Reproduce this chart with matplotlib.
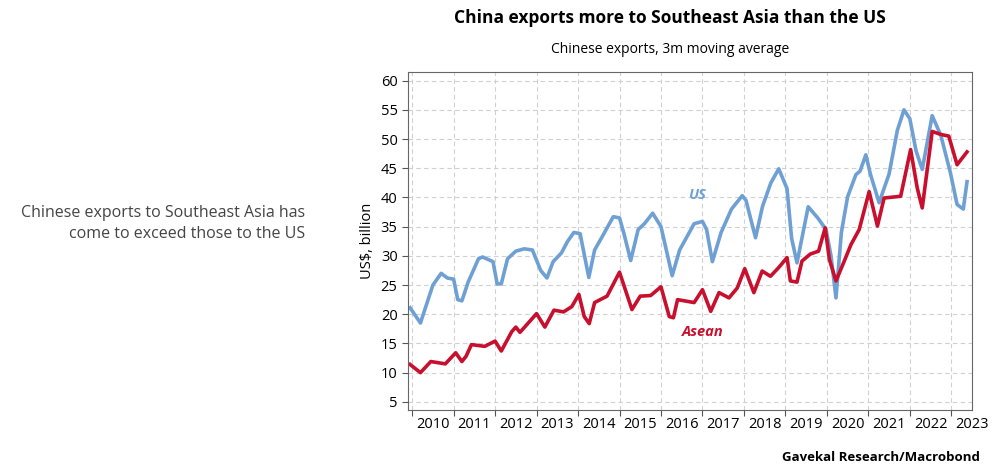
import matplotlib.pyplot as plt
import numpy as np

plt.rcParams['font.family'] = ['Open Sans', 'DejaVu Sans']

us_t = [2009.95, 2010.2, 2010.5, 2010.7, 2010.85, 2011.0, 2011.1, 2011.2, 2011.35, 2011.6, 2011.7,
        2011.95, 2012.05, 2012.15, 2012.3, 2012.5, 2012.7, 2012.9, 2013.1, 2013.25, 2013.4, 2013.6,
        2013.75, 2013.9, 2014.05, 2014.26, 2014.4, 2014.6, 2014.85, 2015.0, 2015.1, 2015.27, 2015.45,
        2015.6, 2015.8, 2016.0, 2016.27, 2016.45, 2016.8, 2017.0, 2017.1, 2017.24, 2017.45, 2017.7,
        2017.96, 2018.05, 2018.28, 2018.45, 2018.65, 2018.84, 2019.04, 2019.15, 2019.28, 2019.55,
        2019.78, 2019.98, 2020.1, 2020.22, 2020.35, 2020.5, 2020.7, 2020.8, 2020.94, 2021.05, 2021.26,
        2021.5, 2021.7, 2021.86, 2022.0, 2022.15, 2022.3, 2022.54, 2022.75, 2022.98, 2023.14, 2023.29,
        2023.38]
us_v = [21.1, 18.5, 25.0, 27.0, 26.2, 26.0, 22.5, 22.3, 25.5, 29.5, 29.8,
        29.0, 25.2, 25.2, 29.5, 30.8, 31.2, 31.0, 27.5, 26.2, 29.0, 30.5,
        32.5, 34.0, 33.8, 26.3, 31.0, 33.5, 36.7, 36.5, 34.0, 29.2, 34.5,
        35.5, 37.3, 35.0, 26.6, 31.0, 35.5, 35.9, 34.5, 29.0, 34.0, 38.0,
        40.3, 39.5, 33.1, 38.5, 42.5, 44.9, 41.5, 33.0, 28.8, 38.4,
        36.5, 34.5, 30.0, 22.8, 34.0, 40.1, 43.9, 44.5, 47.3, 44.0, 39.1,
        44.0, 51.5, 55.0, 53.5, 48.0, 44.8, 54.0, 50.6, 44.2, 38.8, 38.0,
        42.7]

asean_t = [2009.95, 2010.2, 2010.45, 2010.8, 2011.05, 2011.2, 2011.3, 2011.43, 2011.75, 2012.0,
           2012.15, 2012.4, 2012.5, 2012.6, 2013.0, 2013.2, 2013.42, 2013.65, 2013.85, 2014.02,
           2014.15, 2014.27, 2014.4, 2014.7, 2015.0, 2015.3, 2015.5, 2015.75, 2016.0, 2016.2,
           2016.3, 2016.4, 2016.8, 2017.0, 2017.2, 2017.4, 2017.64, 2017.84, 2018.02, 2018.24,
           2018.44, 2018.64, 2018.84, 2019.04, 2019.12, 2019.28, 2019.4, 2019.6, 2019.8, 2019.96,
           2020.06, 2020.22, 2020.42, 2020.58, 2020.78, 2021.02, 2021.22, 2021.38, 2021.78, 2022.02,
           2022.18, 2022.3, 2022.54, 2022.74, 2022.94, 2023.14, 2023.38]
asean_v = [11.4, 10.0, 11.9, 11.5, 13.4, 11.9, 12.8, 14.8, 14.5, 15.4,
           13.7, 17.0, 17.8, 16.9, 20.1, 17.8, 20.7, 20.4, 21.3, 23.4,
           19.6, 18.4, 22.0, 23.1, 27.2, 20.8, 23.1, 23.2, 24.7, 19.6,
           19.4, 22.5, 22.0, 24.2, 20.5, 23.7, 22.8, 24.5, 27.8, 23.7,
           27.4, 26.5, 28.0, 29.7, 25.7, 25.5, 29.1, 30.3, 30.8, 34.8,
           29.4, 25.7, 29.1, 31.9, 34.5, 41.0, 35.1, 39.9, 40.2, 48.2,
           41.6, 38.2, 51.3, 50.8, 50.5, 45.6, 47.8]

years = list(range(2010, 2024))

fig = plt.figure(figsize=(10, 4.76), dpi=100)
ax = fig.add_axes([0.408, 0.139, 0.564, 0.71])

ax.plot(us_t, us_v, color='#6fa0d4', lw=2.6, solid_joinstyle='round')
ax.plot(asean_t, asean_v, color='#c8102e', lw=2.6, solid_joinstyle='round')

ax.set_xlim(2009.9, 2023.43)
ax.set_ylim(3.63, 61.5)
ax.set_yticks(range(5, 61, 5))
ax.set_xticks(years)
ax.set_xticklabels([])
ax.set_xticks([y + 0.5 for y in years], minor=True)
ax.set_xticklabels([str(y) for y in years], minor=True)
ax.tick_params(axis='x', which='minor', length=0, labelsize=10.5, pad=5)
ax.tick_params(axis='both', which='major', length=4, color='#555555', labelsize=10.5)
ax.grid(True, which='major', ls=(0, (4, 3)), color='#d0d0d0', lw=0.8)
for s in ax.spines.values():
    s.set_color('#666666')
ax.set_ylabel('US$, billion', fontsize=10.5)

ax.text(2016.9, 40.5, 'US', color='#6fa0d4', style='italic', fontweight='bold', fontsize=10.5, ha='center', va='center')
ax.text(2017.0, 17.0, 'Asean', color='#c8102e', style='italic', fontweight='bold', fontsize=10.5, ha='center', va='center')

fig.text(0.67, 0.962, 'China exports more to Southeast Asia than the US', fontsize=12.5, fontweight='bold', ha='center', va='center')
fig.text(0.67, 0.895, 'Chinese exports, 3m moving average', fontsize=10, ha='center', va='center')
fig.text(0.305, 0.53, 'Chinese exports to Southeast Asia has\ncome to exceed those to the US', fontsize=11.5,
         ha='right', va='center', color='#444444', linespacing=1.4)
fig.text(0.98, 0.038, 'Gavekal Research/Macrobond', fontsize=9.5, fontweight='bold', ha='right', va='center')

fig.savefig('out.png', dpi=100)
